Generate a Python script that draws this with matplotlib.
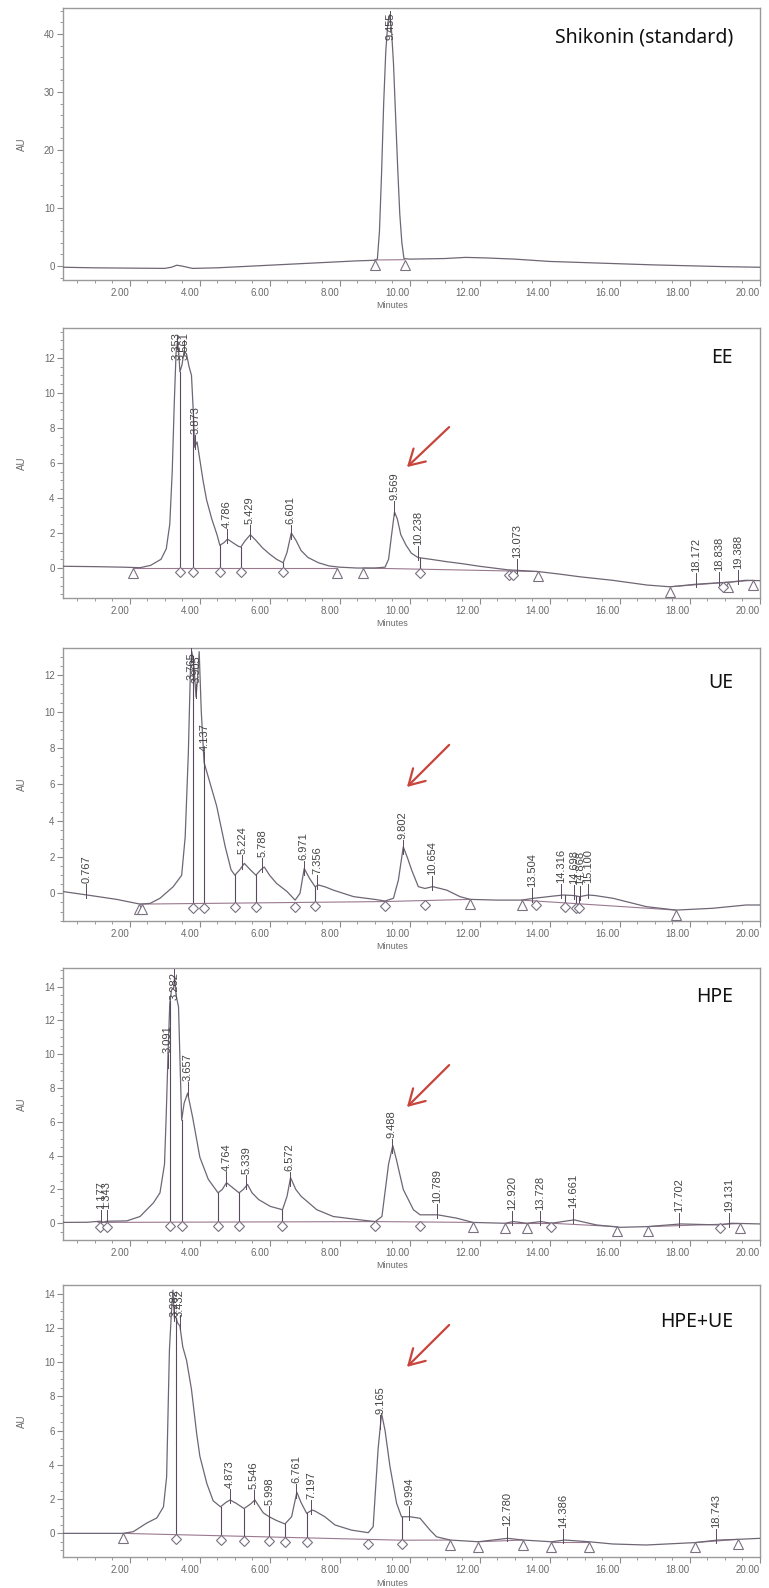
import numpy as np
import matplotlib
matplotlib.use("Agg")
import matplotlib.pyplot as plt
from matplotlib import transforms

# ------------------------------------------------------------------ data
titles = ["Shikonin (standard)", "EE", "UE", "HPE", "HPE+UE"]

std_trace = [(0.1, -0.2), (1.0, -0.3), (2.0, -0.35), (3.0, -0.4), (3.2, -0.2), (3.35, 0.15),
             (3.5, 0.0), (3.8, -0.4), (4.5, -0.3), (5.5, 0.0), (6.5, 0.3), (7.5, 0.6), (8.5, 0.9),
             (9.0, 1.0), (9.08, 1.2), (9.14, 6), (9.2, 16), (9.26, 28), (9.32, 37), (9.38, 42),
             (9.43, 43.3), (9.48, 41), (9.54, 35), (9.60, 26), (9.66, 17), (9.72, 9), (9.78, 4),
             (9.84, 1.3), (10.0, 1.2), (11.0, 1.3), (11.6, 1.5), (12.2, 1.4), (13.0, 1.2),
             (14.0, 0.8), (15.0, 0.6), (16.0, 0.4), (17.0, 0.2), (18.0, 0.05), (19.0, -0.1),
             (20.01, -0.2)]
std_labels = [9.455]
std_drops = []
std_dia = []
std_tri = [9.00, 9.86]
std_base = [((9.00, 1.05), (9.86, 1.1))]

ee_trace = [(0.1, 0.1), (1.0, 0.08), (1.8, 0.05), (2.3, 0.02), (2.6, 0.15), (2.9, 0.5), (3.05, 1.1),
            (3.15, 2.5), (3.22, 5.5), (3.28, 9.5), (3.33, 12.3), (3.37, 12.9), (3.41, 12.2),
            (3.44, 11.2), (3.50, 11.6), (3.56, 12.4), (3.63, 12.2), (3.70, 11.5), (3.77, 11.0),
            (3.82, 9.0), (3.86, 6.9), (3.93, 7.2), (4.0, 6.3), (4.1, 5.0), (4.2, 3.9), (4.35, 2.8),
            (4.5, 1.9), (4.58, 1.3), (4.7, 1.45), (4.80, 1.65), (4.95, 1.45), (5.1, 1.25),
            (5.18, 1.2), (5.3, 1.55), (5.45, 1.9), (5.6, 1.6), (5.8, 1.15), (6.0, 0.8), (6.2, 0.5),
            (6.39, 0.3), (6.5, 0.9), (6.62, 2.0), (6.75, 1.6), (6.9, 1.0), (7.1, 0.6), (7.4, 0.3),
            (7.7, 0.12), (8.0, 0.05), (8.5, 0.0), (9.0, 0.0), (9.3, 0.05), (9.4, 0.5), (9.48, 1.8),
            (9.57, 3.2), (9.65, 2.8), (9.75, 1.9), (9.9, 1.3), (10.05, 0.85), (10.24, 0.6),
            (10.6, 0.5), (11.07, 0.36), (11.5, 0.25), (12.0, 0.1), (12.8, -0.1), (13.67, -0.2),
            (14.3, -0.35), (14.87, -0.5), (15.8, -0.7), (16.78, -0.97), (17.44, -1.07),
            (18.2, -0.92), (19.16, -0.8), (19.6, -0.7), (20.01, -0.72)]
ee_labels = [3.353, 3.561, 3.873, 4.786, 5.429, 6.601, 9.569, 10.238, 13.073, 18.172, 18.838, 19.388]
ee_drops = [3.44, 3.82, 4.58, 5.18, 6.39, 10.30]
ee_dia = [3.44, 3.82, 4.58, 5.18, 6.39, 10.30, 12.85, 12.95, 18.96]
ee_tri = [2.10, 7.93, 8.67, 13.67, 17.44, 19.10, 19.81]
ee_base = [((2.10, 0.0), (7.93, 0.0)), ((8.67, 0.0), (13.67, -0.2)), ((17.44, -1.07), (19.81, -0.7))]

ue_trace = [(0.1, 0.1), (0.79, -0.09), (1.63, -0.33), (2.3, -0.59), (2.59, -0.55), (2.87, -0.27),
            (3.25, 0.37), (3.49, 1.0), (3.59, 3.1), (3.68, 7.7), (3.74, 12.3), (3.78, 13.3),
            (3.84, 12.5), (3.90, 10.8), (3.95, 12.0), (3.99, 13.3), (4.05, 10.0), (4.13, 7.2),
            (4.25, 6.4), (4.49, 4.8), (4.73, 2.6), (4.9, 1.3), (5.01, 1.0), (5.15, 1.3),
            (5.28, 1.65), (5.45, 1.3), (5.61, 1.0), (5.75, 1.3), (5.85, 1.45), (6.0, 1.0),
            (6.2, 0.55), (6.5, 0.1), (6.73, -0.37), (6.87, 0.0), (6.99, 1.37), (7.15, 0.8),
            (7.30, 0.37), (7.40, 0.46), (7.6, 0.35), (7.82, 0.18), (8.4, -0.18), (9.0, -0.33),
            (9.3, -0.42), (9.54, -0.27), (9.68, 0.73), (9.82, 2.56), (9.95, 1.9), (10.06, 1.28),
            (10.25, 0.37), (10.44, 0.27), (10.66, 0.37), (11.06, 0.18), (11.44, -0.18),
            (11.73, -0.33), (12.49, -0.37), (13.2, -0.37), (13.55, -0.27), (14.1, -0.15),
            (14.4, -0.09), (14.7, -0.12), (14.86, -0.18), (15.1, -0.09), (15.3, -0.12),
            (15.81, -0.27), (16.76, -0.73), (17.61, -0.92), (18.66, -0.82), (19.61, -0.64),
            (20.01, -0.64)]
ue_labels = [0.767, 3.765, 3.905, 4.137, 5.224, 5.788, 6.971, 7.356, 9.802, 10.654, 13.504,
             14.316, 14.698, 14.868, 15.100]
ue_drops = [3.80, 4.13, 5.01, 5.61, 7.30, 14.43, 14.75, 14.85]
ue_dia = [3.80, 4.13, 5.01, 5.61, 6.73, 7.30, 9.30, 10.44, 13.62, 14.43, 14.75, 14.85]
ue_tri = [2.26, 2.36, 11.73, 13.20, 17.61]
ue_base = [((2.3, -0.59), (9.3, -0.45)), ((9.3, -0.45), (11.73, -0.33)),
           ((13.2, -0.37), (17.61, -0.92))]

hpe_trace = [(0.1, 0.05), (0.8, 0.06), (1.16, 0.12), (1.25, 0.06), (1.35, 0.12), (1.92, 0.14),
             (2.3, 0.4), (2.68, 1.2), (2.87, 1.8), (3.0, 3.5), (3.05, 6.5), (3.10, 10.0),
             (3.15, 13.0), (3.2, 13.8), (3.26, 13.9), (3.29, 14.6), (3.33, 13.5), (3.40, 12.8),
             (3.45, 9.0), (3.49, 6.1), (3.56, 7.1), (3.66, 7.7), (3.8, 6.3), (4.01, 3.9),
             (4.25, 2.6), (4.53, 1.8), (4.65, 2.0), (4.77, 2.4), (4.95, 2.1), (5.13, 1.8),
             (5.25, 2.0), (5.37, 2.3), (5.5, 1.8), (5.69, 1.4), (6.02, 1.0), (6.37, 0.8),
             (6.5, 1.6), (6.6, 2.7), (6.75, 2.0), (6.9, 1.6), (7.35, 0.8), (7.82, 0.4),
             (8.59, 0.2), (9.02, 0.1), (9.21, 0.4), (9.4, 3.5), (9.52, 4.6), (9.62, 3.8),
             (9.82, 2.0), (10.11, 0.8), (10.3, 0.5), (10.8, 0.5), (11.35, 0.3), (11.81, 0.05),
             (12.73, 0.0), (12.96, 0.1), (13.35, 0.0), (13.75, 0.1), (14.05, 0.0), (14.7, 0.2),
             (15.34, -0.1), (16.0, -0.24), (16.77, -0.2), (17.75, -0.04), (18.86, -0.1),
             (19.2, 0.0), (20.01, -0.04)]
hpe_labels = [1.177, 1.343, 3.091, 3.282, 3.657, 4.764, 5.339, 6.572, 9.488, 10.789, 12.920,
              13.728, 14.661, 17.702, 19.131]
hpe_drops = [3.16, 3.49, 4.53, 5.13, 6.37]
hpe_dia = [1.16, 1.35, 3.16, 3.49, 4.53, 5.13, 6.37, 9.02, 10.30, 14.05, 18.86]
hpe_tri = [11.81, 12.73, 13.35, 15.93, 16.80, 19.45]
hpe_base = [((1.1, 0.05), (9.02, 0.1)), ((9.02, 0.1), (11.81, 0.05)), ((12.73, 0.0), (14.05, 0.0)),
            ((14.05, 0.0), (15.93, -0.2)), ((16.8, -0.2), (19.45, -0.02))]

mix_trace = [(0.1, 0.0), (1.16, 0.0), (1.82, 0.0), (2.11, 0.1), (2.49, 0.6), (2.78, 0.9),
             (2.97, 1.55), (3.06, 3.3), (3.14, 10.7), (3.2, 13.0), (3.24, 14.2), (3.28, 12.6),
             (3.33, 12.6), (3.37, 12.3), (3.44, 12.1), (3.52, 10.9), (3.63, 10.1), (3.77, 8.4),
             (3.92, 5.8), (4.01, 4.5), (4.21, 2.9), (4.39, 1.9), (4.6, 1.55), (4.75, 1.8),
             (4.87, 1.95), (5.05, 1.75), (5.27, 1.45), (5.45, 1.7), (5.58, 1.95), (5.82, 1.2),
             (5.99, 0.97), (6.2, 0.75), (6.44, 0.55), (6.63, 0.97), (6.78, 2.4), (6.9, 1.8),
             (7.06, 1.17), (7.22, 1.36), (7.3, 1.3), (7.58, 0.97), (7.87, 0.49), (8.34, 0.19),
             (8.82, 0.04), (8.96, 0.39), (9.1, 4.9), (9.2, 7.0), (9.3, 6.0), (9.44, 3.9),
             (9.63, 1.75), (9.77, 0.97), (10.01, 0.97), (10.3, 0.88), (10.58, 0.2), (10.77, -0.2),
             (11.16, -0.39), (11.96, -0.49), (12.8, -0.29), (13.24, -0.39), (14.05, -0.49),
             (14.43, -0.39), (15.13, -0.49), (15.8, -0.62), (16.76, -0.68), (18.14, -0.54),
             (18.81, -0.39), (19.38, -0.35), (20.01, -0.29)]
mix_labels = [3.282, 3.432, 4.873, 5.546, 5.998, 6.761, 7.197, 9.165, 9.994, 12.780, 14.386, 18.743]
mix_drops = [3.33, 4.60, 5.27, 5.99, 6.44, 7.06, 9.77]
mix_dia = [3.33, 4.60, 5.27, 5.99, 6.44, 7.06, 8.82, 9.77]
mix_tri = [1.82, 11.16, 11.96, 13.24, 14.05, 15.13, 18.14, 19.38]
mix_base = [((1.82, 0.0), (9.77, -0.4)), ((9.77, -0.4), (11.16, -0.39)),
            ((11.96, -0.49), (13.24, -0.39)), ((14.05, -0.49), (15.13, -0.49)),
            ((18.14, -0.54), (19.38, -0.35))]

x_major = [2, 4, 6, 8, 10, 12, 14, 16, 18, 20]

# ------------------------------------------------------------------ layout / style
W, H = 769, 1588
fig = plt.figure(figsize=(W / 100, H / 100), dpi=100)
fig.patch.set_facecolor("white")

ax_left, ax_right = 63, 760
panel_px = [(8, 280), (328, 598), (648, 921), (968, 1240), (1285, 1557)]
ylims = [(-2.4, 44.5), (-1.71, 13.7), (-1.52, 13.5), (-0.99, 15.1), (-1.38, 14.5)]
yticks = [np.arange(0, 41, 10), np.arange(0, 13, 2), np.arange(0, 13, 2),
          np.arange(0, 15, 2), np.arange(0, 15, 2)]
yminor = [2, 0.5, 0.5, 0.5, 0.5]
title_y = [0.89, 0.889, 0.872, 0.893, 0.864]
arrows = [None, (0.633, 0.485), (0.645, 0.491), (0.643, 0.489), (0.853, 0.699)]

TRACE = "#6e6674"
BASE = "#9a7890"
DROP = "#5a4a5e"
MK = "#7a7080"
GREY = "#8c8c8c"
TXT = "#444444"
RED = "#c8453c"
LBL_FONT = ["Liberation Sans", "DejaVu Sans"]

panels = [
    (std_trace, std_labels, std_drops, std_dia, std_tri, std_base),
    (ee_trace, ee_labels, ee_drops, ee_dia, ee_tri, ee_base),
    (ue_trace, ue_labels, ue_drops, ue_dia, ue_tri, ue_base),
    (hpe_trace, hpe_labels, hpe_drops, hpe_dia, hpe_tri, hpe_base),
    (mix_trace, mix_labels, mix_drops, mix_dia, mix_tri, mix_base),
]

renderer = fig.canvas.get_renderer()

for i, (trace, labels, drops, dias, tris, bases) in enumerate(panels):
    top, bot = panel_px[i]
    ax = fig.add_axes([ax_left / W, 1 - bot / H, (ax_right - ax_left) / W, (bot - top) / H])
    t, y = map(np.array, zip(*trace))
    ax.set_xlim(0.1, 20.01)
    ax.set_ylim(*ylims[i])

    ax.plot(t, y, color=TRACE, lw=0.9, zorder=3)
    for (t0, y0), (t1, y1) in bases:
        ax.plot([t0, t1], [y0, y1], color=BASE, lw=0.8, zorder=2)

    def base_at(x, bases=bases, t=t, y=y):
        for (t0, y0), (t1, y1) in bases:
            if t0 - 1e-6 <= x <= t1 + 1e-6:
                return y0 + (y1 - y0) * (x - t0) / (t1 - t0)
        return float(np.interp(x, t, y))

    for d in drops:
        ax.plot([d, d], [base_at(d), np.interp(d, t, y)], color=DROP, lw=0.8, zorder=3)

    off_tri = transforms.offset_copy(ax.transData, fig=fig, y=-4.8, units="dots")
    off_dia = transforms.offset_copy(ax.transData, fig=fig, y=-4.2, units="dots")
    if tris:
        ax.plot(tris, [base_at(x) for x in tris], ls="none", marker="^", ms=6.5, mfc="white",
                mec=MK, mew=0.8, transform=off_tri, zorder=4)
    if dias:
        ax.plot(dias, [base_at(x) for x in dias], ls="none", marker="D", ms=5, mfc="white",
                mec=MK, mew=0.8, transform=off_dia, zorder=4)

    # peak labels
    inv = ax.transData.inverted()
    ax_top = ax.bbox.y1
    for rt in labels:
        yc = float(np.interp(rt, t, y))
        xd, yd = ax.transData.transform((rt, yc))
        y_lo = inv.transform((xd, yd - 3))[1]
        y_hi = inv.transform((xd, yd + 11))[1]
        ax.plot([rt, rt], [y_lo, y_hi], color=DROP, lw=0.7, zorder=3)
        off_lbl = transforms.offset_copy(ax.transData, fig=fig, y=12, units="dots")
        txt = ax.text(rt, yc, f"{rt:.3f}", rotation=90, fontsize=8, ha="center", va="bottom",
                      color=TXT, family=LBL_FONT, transform=off_lbl, zorder=5)
        bb = txt.get_window_extent(renderer)
        if bb.y1 > ax_top - 3:
            txt.remove()
            ax.text(rt, 1 - 4 / (bot - top), f"{rt:.3f}", rotation=90, fontsize=8, ha="center",
                    va="top", color=TXT, family=LBL_FONT, transform=ax.get_xaxis_transform(),
                    zorder=5)

    # axes styling
    for s in ax.spines.values():
        s.set_color("#9a9a9a")
        s.set_linewidth(1.0)
    ax.set_xticks(x_major)
    ax.set_xticklabels([f"{v:.2f}" for v in x_major])
    for lb in ax.get_xticklabels():
        lb.set_horizontalalignment("right")
    ax.set_xticks(np.arange(0.5, 20.01, 0.5), minor=True)
    ax.set_yticks(yticks[i])
    ax.set_yticklabels([f"{v:d}" for v in yticks[i]])
    lo, hi = ylims[i]
    ax.set_yticks(np.arange(np.ceil(lo / yminor[i]) * yminor[i], hi, yminor[i]), minor=True)
    ax.tick_params(axis="both", which="major", direction="out", length=4, width=0.8,
                   color=GREY, labelcolor="#6a6a6a", labelsize=7, pad=2)
    ax.tick_params(axis="both", which="minor", direction="out", length=2, width=0.6, color=GREY)
    for lb in ax.get_xticklabels() + ax.get_yticklabels():
        lb.set_family(LBL_FONT)

    ax.text(0.961, title_y[i], titles[i], transform=ax.transAxes, ha="right", va="center",
            fontsize=14, family=["Noto Sans", "DejaVu Sans"], color="#111111")

    if arrows[i] is not None:
        ytail, yhead = arrows[i]
        ax.annotate("", xy=(0.4935, yhead), xytext=(0.554, ytail), xycoords="axes fraction",
                    textcoords="axes fraction",
                    arrowprops=dict(arrowstyle="->,head_length=0.55,head_width=0.32",
                                    color=RED, lw=1.6, mutation_scale=20, shrinkA=0, shrinkB=0))

    fig.text(392 / W, 1 - (bot + 26) / H, "Minutes", ha="center", va="center", fontsize=6.5,
             color="#6a6a6a", family=LBL_FONT)
    fig.text(22 / W, 1 - ((top + bot) / 2) / H, "AU", ha="center", va="center", rotation=90,
             fontsize=7, color="#6a6a6a", family=LBL_FONT)

fig.savefig("out.png", dpi=100, facecolor="white")
